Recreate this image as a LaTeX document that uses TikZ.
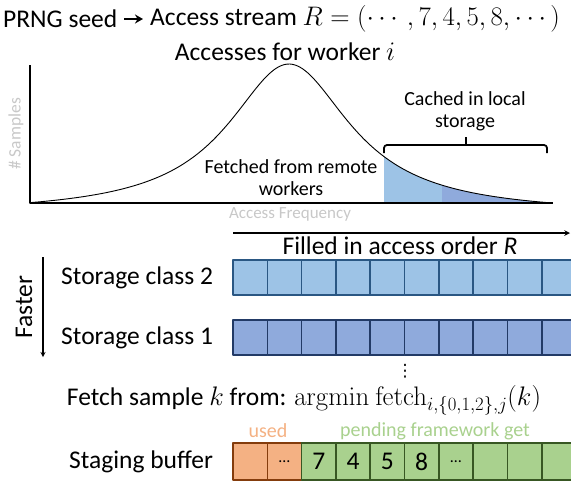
\documentclass[tikz,border=0pt]{standalone}
\usepackage{fix-cm}
\usepackage{amsmath}
\usepackage[no-math]{fontspec}
\setmainfont{Carlito}
\newfontfamily\symfont{DejaVu Sans}
\usetikzlibrary{positioning,arrows.meta}
\definecolor{cachelight}{HTML}{9DC3E6}
\definecolor{cachedark}{HTML}{8FAADC}
\definecolor{edgelight}{HTML}{2A5783}
\definecolor{edgedark}{HTML}{223A66}
\definecolor{usedfill}{HTML}{F4B183}
\definecolor{usededge}{HTML}{843C0C}
\definecolor{pendfill}{HTML}{A9D18E}
\definecolor{pendedge}{HTML}{385723}
\definecolor{axislbl}{HTML}{C8C8C8}
\newcommand\bigmath[1]{{\fontsize{26.8}{30}\selectfont$#1$}}
\begin{document}
\begin{tikzpicture}[x=1pt,y=-1pt,>=stealth, line join=round,
	font=\fontsize{25.5}{30}\selectfont,
	lbl/.style={inner sep=0pt},
	small/.style={inner sep=0pt,font=\fontsize{20}{22}\selectfont},
	cell/.style={draw, line width=1.6pt, minimum width=34.3pt, minimum height=35pt, inner sep=0pt},
	declare function={bell(\t)=203-139*(1/(1+((\t-289)/75)^2)-0.075)/0.925;}]
	\def\cw{34.3} \def\xs{233}
	\useasboundingbox (0,0) rectangle (571,485);
	\clip (0,0) rectangle (571,485);
	% stream
	\node[lbl,anchor=west] (seed) at (3,19) {PRNG seed};
	\node[lbl,anchor=west] (stream) at (150,19) {Access stream \bigmath{R=(\cdots,7,4,5,8,\cdots)}};
	\draw[-{Stealth[length=8pt,width=9pt]},line width=1.8pt,shorten <=7pt,shorten >=7pt] (seed.east)--(stream.west);
	\node[lbl] (worker) at (285,52) {Accesses for worker \bigmath{i}};
	% distribution
	\fill[cachelight] (384,203) -- plot[smooth,samples=30,domain=384:442] (\x,{bell(\x)}) -- (442,203) -- cycle;
	\fill[cachedark] (442,203) -- plot[smooth,samples=40,domain=442:552] (\x,{bell(\x)}) -- (552,203) -- cycle;
	\draw[line width=0.9pt,smooth,samples=200,domain=30:552] plot(\x,{bell(\x)});
	\draw[line width=1.6pt] (30,65)--(30,203)--(553,203);
	\node[lbl,rotate=90,text=axislbl,font=\fontsize{17.5}{20}\selectfont] (ysamples) at (16,134) {\# Samples};
	\node[lbl,text=axislbl,font=\fontsize{17}{20}\selectfont] (xfreq) at (290,214) {Access Frequency};
	\node[small,align=center] (cached) at (465,111) {Cached in local\\storage};
	\node[small,align=center] (remote) at (291,178) {Fetched from remote\\workers};
	\draw[line width=1.8pt,rounded corners=3pt] (384,153)--(384,145)--(547,145)--(547,153);
	\draw[line width=1.8pt] (466,145)--(466,137);
	% storage classes
	\coordinate (fillA) at (\xs,233);
	\coordinate (fillB) at (570,233);
	\draw[->,line width=1.5pt] (fillA)--(fillB);
	\node[lbl] (order) at (400,246) {Filled in access order \textit{R}};
	\foreach \i in {0,...,9}{
		\node[cell,fill=cachelight,draw=edgelight] (two\i) at ({\xs+\cw*(\i+0.5)},277.5) {};
		\node[cell,fill=cachedark,draw=edgedark] (one\i) at ({\xs+\cw*(\i+0.5)},337.5) {};
	}
	\node[lbl,left=19pt of two0] (twolbl) {Storage class 2};
	\node[lbl,left=19pt of one0] (onelbl) {Storage class 1};
	\coordinate (fastA) at (43,257);
	\coordinate (fastB) at (43,357);
	\draw[->,line width=1.2pt] (fastA)--(fastB);
	\node[lbl,rotate=90] (faster) at (24,307) {Faster};
	\node[lbl,font=\fontsize{17}{20}\selectfont\symfont] (vdots) at (405,371) {⋮};
	\node[lbl] (fetch) at (304,400) {Fetch sample \bigmath{k} from: \bigmath{\mathrm{argmin}\ \mathrm{fetch}_{i,\{0,1,2\},j}(k)}};
	% staging buffer
	\foreach \i in {0,1}
		\node[cell,minimum height=37pt,fill=usedfill,draw=usededge] (buf\i) at ({\xs+\cw*(\i+0.5)},461.5) {};
	\foreach \i in {2,...,9}
		\node[cell,minimum height=37pt,fill=pendfill,draw=pendedge] (buf\i) at ({\xs+\cw*(\i+0.5)},461.5) {};
	\node[font=\fontsize{16}{18}\selectfont] at (buf1) {\dots};
	\node at (buf2) {7};
	\node at (buf3) {4};
	\node at (buf4) {5};
	\node at (buf5) {8};
	\node[font=\fontsize{16}{18}\selectfont] at (buf6) {\dots};
	\node[lbl,left=19pt of buf0] (buflbl) {Staging buffer};
	\node[small,text=usedfill] (used) at (268,431) {used};
	\node[small,text=pendfill] (pending) at (435,431) {pending framework get};
\end{tikzpicture}
\end{document}
